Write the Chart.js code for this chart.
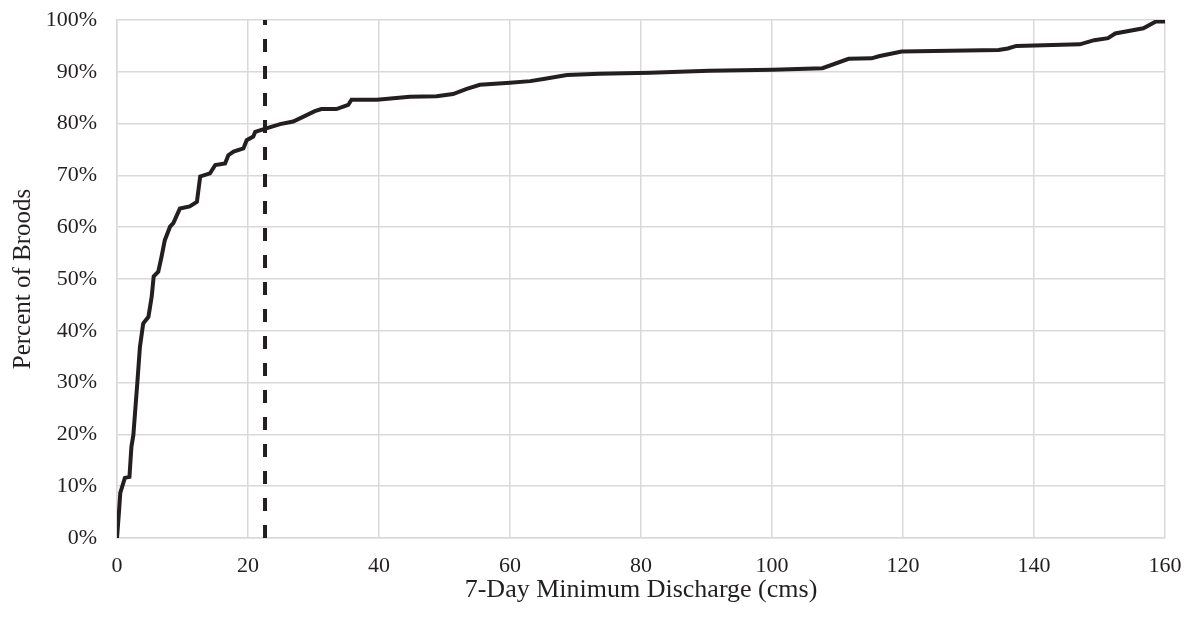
<!DOCTYPE html>
<html>
<head>
<meta charset="utf-8">
<script src="https://cdn.jsdelivr.net/npm/chart.js@4"></script>
<style>
  html, body { margin: 0; padding: 0; background: #fff; }
</style>
</head>
<body>
<canvas id="cdfChart" width="1193" height="618"></canvas>
<script>
// Cumulative share of broods vs 7-day minimum discharge
const discharge = [0, 0.3, 0.5, 1.2, 1.9, 2.2, 2.5, 2.9, 3.1, 3.5, 4.0, 4.8, 5.3, 5.6, 6.3, 6.8, 7.3, 8.1, 8.6, 9.6,
  11.1, 12.2, 12.7, 14.2, 15.0, 16.5, 17.0, 17.8, 19.3, 19.8, 20.8, 21.1, 22.3, 24.9, 26.9, 28.4, 30.2, 31.2, 33.5,
  35.3, 35.8, 39.7, 42.2, 44.7, 48.8, 51.3, 53.4, 55.4, 60.0, 63.1, 65.1, 68.7, 73.7, 81.4, 90.4, 100.1, 107.7,
  111.7, 115.2, 116.3, 119.8, 134.6, 136.0, 137.3, 147.0, 149.2, 151.3, 152.4, 156.7, 158.6, 160];
const percentBroods = [0, 5, 8.7, 11.6, 11.8, 17.6, 19.9, 26.6, 29.9, 36.9, 41.4, 42.7, 46.6, 50.5, 51.4, 54.3, 57.5, 60.1, 60.8, 63.6,
  64.0, 64.9, 69.8, 70.4, 72.0, 72.3, 73.9, 74.6, 75.2, 76.8, 77.5, 78.4, 78.9, 79.9, 80.4, 81.3, 82.4, 82.8, 82.8,
  83.6, 84.6, 84.6, 84.9, 85.2, 85.3, 85.7, 86.7, 87.5, 87.9, 88.2, 88.6, 89.4, 89.6, 89.8, 90.2, 90.4, 90.7,
  92.5, 92.6, 93.0, 93.9, 94.2, 94.5, 95.0, 95.3, 96.1, 96.5, 97.4, 98.4, 99.7, 99.7];
// threshold marked by the dashed line
const thresholdX = 22.6;
const thresholdY = [0, 100];

const serif = '"Liberation Serif", "Times New Roman", serif';
const tickFont = { family: serif, size: 22 };

const cdfPoints = discharge.map((x, i) => ({ x: x, y: percentBroods[i] }));
const thresholdPoints = thresholdY.map(y => ({ x: thresholdX, y: y }));

const chartConfig = {
    type: 'scatter',
    data: {
        datasets: [{
            label: 'Broods',
            data: cdfPoints,
            showLine: true,
            borderColor: '#231f20',
            borderWidth: 4,
            pointRadius: 0,
            tension: 0
        }, {
            label: 'Threshold',
            data: thresholdPoints,
            showLine: true,
            borderColor: '#231f20',
            borderWidth: 4,
            borderDash: [13, 14],
            pointRadius: 0
        }]
    },
    options: {
        responsive: false,
        animation: false,
        layout: { padding: { top: 20, right: 28, left: 0, bottom: 0 } },
        plugins: {
            legend: { display: false },
            tooltip: { enabled: false }
        },
        scales: {
            x: {
                type: 'linear',
                min: 0,
                max: 160,
                ticks: { stepSize: 20, color: '#231f20', font: tickFont, padding: 15 },
                grid: { color: '#d9d9d9', lineWidth: 1.5, drawTicks: false },
                border: { color: '#d9d9d9', width: 1.5 },
                title: { display: true, text: '7-Day Minimum Discharge (cms)', color: '#231f20', font: { family: serif, size: 26 }, padding: { top: 0, bottom: 12 } },
                afterFit: scale => {
                    scale.height = 80;
                    scale.paddingLeft = 0;
                    scale.paddingRight = 0;
                }
            },
            y: {
                min: 0,
                max: 100,
                ticks: { stepSize: 10, color: '#231f20', font: tickFont, padding: 20, callback: v => v + '%' },
                grid: { color: '#d9d9d9', lineWidth: 1.5, drawTicks: false },
                border: { color: '#d9d9d9', width: 1.5 },
                title: { display: true, text: 'Percent of Broods', color: '#231f20', font: { family: serif, size: 25 }, padding: { top: 8, bottom: 0 } },
                afterFit: scale => {
                    scale.width = 117;
                    scale.paddingTop = 0;
                    scale.paddingBottom = 0;
                }
            }
        }
    }
};

const cdfChart = new Chart(document.getElementById('cdfChart'), chartConfig);
</script>
</body>
</html>
